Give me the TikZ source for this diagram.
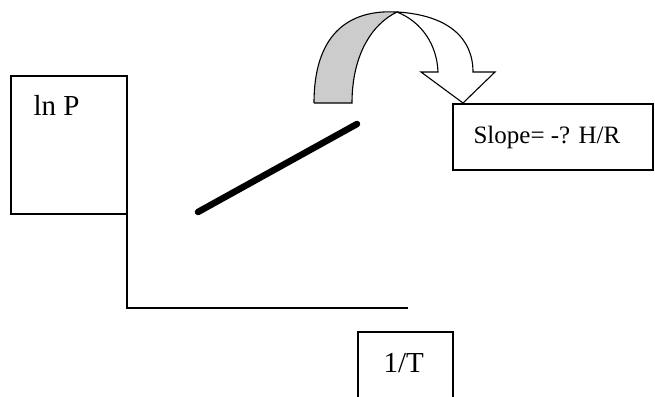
\documentclass[tikz,border=0pt]{standalone}
\usepackage{fontspec}
\setmainfont{Liberation Serif}
\begin{document}
\begin{tikzpicture}[x=1pt,y=-1pt,line width=1.1pt,
  box/.style={draw,line width=1.1pt,inner sep=0pt,outer sep=0pt,anchor=north west},
  lbl/.style={inner sep=0pt,anchor=base west}]
\useasboundingbox (0,0) rectangle (655,396);
% boxes
\node[box,minimum width=116pt,minimum height=138pt] (lnp) at (11,76) {};
\node[box,minimum width=200pt,minimum height=66pt] (slope) at (453,104) {};
\node[box,minimum width=95pt,minimum height=80pt] (invT) at (358,332) {};
% labels
\node[lbl,font=\fontsize{29}{31}\selectfont] (tlnp) at (33,115) {ln P};
\node[lbl,font=\fontsize{25}{27}\selectfont] (tslope) at (473,143) {Slope= -? H/R};
\node[lbl,font=\fontsize{29}{31}\selectfont] (tinvT) at (383,372) {1/T};
% axes
\coordinate (origin) at (127,308);
\coordinate (xend) at (408,308);
\draw (lnp.south east) -- (origin) -- (xend);
% data line
\coordinate (d1) at (198,212);
\coordinate (d2) at (357,124);
\draw[line width=6.5pt,line cap=round] (d1) -- (d2);
% curved arrow
\coordinate (top) at (397,12);
\fill[gray!40] (314,103) -- (352,103) .. controls (352,55) and (372,24) .. (top)
  .. controls (345,9) and (314,38) .. (314,103) -- cycle;
\draw (314,103) -- (352,103) .. controls (352,55) and (372,24) .. (top)
  .. controls (345,9) and (314,38) .. (314,103);
\draw[fill=white,line join=miter] (top) .. controls (422,22) and (437,45) .. (438,72)
  -- (421,72) -- (463,103) -- (495,72) -- (473,72)
  .. controls (473,38) and (448,15) .. (top);
\end{tikzpicture}
\end{document}
